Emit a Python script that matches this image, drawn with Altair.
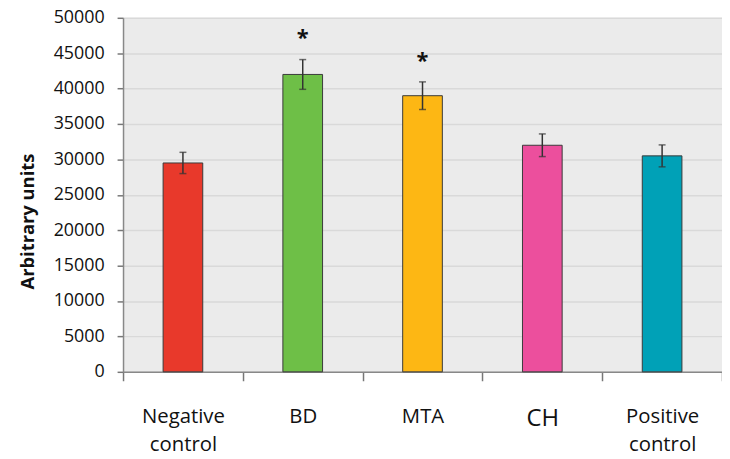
import altair as alt
import pandas as pd

categories = ["Negative control", "BD", "MTA", "CH", "Positive control"]
means = [29500, 42000, 39000, 32000, 30500]
errors = [1500, 2100, 1950, 1600, 1550]
colors = ["#E8392B", "#6EBF47", "#FDB714", "#EC4F9D", "#00A1B7"]
star_cats = ["BD", "MTA"]
star_values = [47300, 44100]
y_ticks = list(range(0, 50001, 5000))

df = pd.DataFrame({
    "cat": categories,
    "mean": means,
    "low": [m - e for m, e in zip(means, errors)],
    "high": [m + e for m, e in zip(means, errors)],
    "color": colors,
})
stars = pd.DataFrame({"cat": star_cats, "y": star_values, "t": ["*"] * len(star_cats)})

FONT = "Open Sans"

xscale = alt.Scale(domain=categories, paddingInner=0, paddingOuter=0)
yscale = alt.Scale(domain=[0, 50000], nice=False)

xaxis = alt.Axis(
    title=None,
    labelAngle=0,
    labelExpr="split(datum.label, ' ')",
    labelFontSize={"condition": {"test": "datum.value === 'CH'", "value": 24}, "value": 20.5},
)
yaxis = alt.Axis(
    title="Arbitrary units",
    values=y_ticks,
    format="d",
    labelOverlap=False,
    titleY=205,
)

xenc = alt.X("cat:N", sort=categories, scale=xscale, axis=xaxis)

bars = alt.Chart(df).mark_bar(size=40, stroke="#3a3a3a", strokeWidth=1).encode(
    x=xenc,
    y=alt.Y("mean:Q", scale=yscale, axis=yaxis),
    color=alt.Color("color:N", scale=None),
)

rules = alt.Chart(df).mark_rule(color="#333333", strokeWidth=1.5).encode(
    x=xenc,
    y=alt.Y("low:Q", scale=yscale, axis=yaxis),
    y2="high:Q",
)
caps_hi = alt.Chart(df).mark_tick(color="#333333", size=7, thickness=1.5, orient="horizontal").encode(
    x=xenc,
    y=alt.Y("high:Q", scale=yscale, axis=yaxis),
)
caps_lo = alt.Chart(df).mark_tick(color="#333333", size=7, thickness=1.5, orient="horizontal").encode(
    x=xenc,
    y=alt.Y("low:Q", scale=yscale, axis=yaxis),
)
star_text = alt.Chart(stars).mark_text(
    font=FONT, fontSize=22, fontWeight="bold", color="#111111", baseline="middle", dy=1
).encode(
    x=xenc,
    y=alt.Y("y:Q", scale=yscale, axis=yaxis),
    text="t:N",
)

chart = (
    alt.layer(bars, rules, caps_hi, caps_lo, star_text)
    .properties(
        width=604,
        height=357,
        background="white",
        autosize=alt.AutoSizeParams(type="none"),
        padding={"left": 116, "top": 8, "right": 0, "bottom": 84},
    )
    .configure_view(fill="#EBEBEB", stroke=None)
    .configure_axis(
        labelFont=FONT,
        titleFont=FONT,
        labelColor="#111111",
        titleColor="#111111",
        tickColor="#777777",
        tickWidth=1.5,
        domainColor="#888888",
        domainWidth=1.5,
    )
    .configure_axisX(
        labelLineHeight=28,
        labelPadding=26,
        labelBaseline="top",
        tickBand="extent",
        tickSize=9,
        grid=False,
    )
    .configure_axisY(
        labelFontSize=18,
        titleFontSize=18.5,
        titleFontWeight="bold",
        titlePadding=16,
        labelPadding=13,
        tickSize=6,
        gridColor="#D9D9D9",
        gridWidth=1.5,
    )
)

chart.save("out.html", embed_options={"renderer": "svg", "actions": False})
